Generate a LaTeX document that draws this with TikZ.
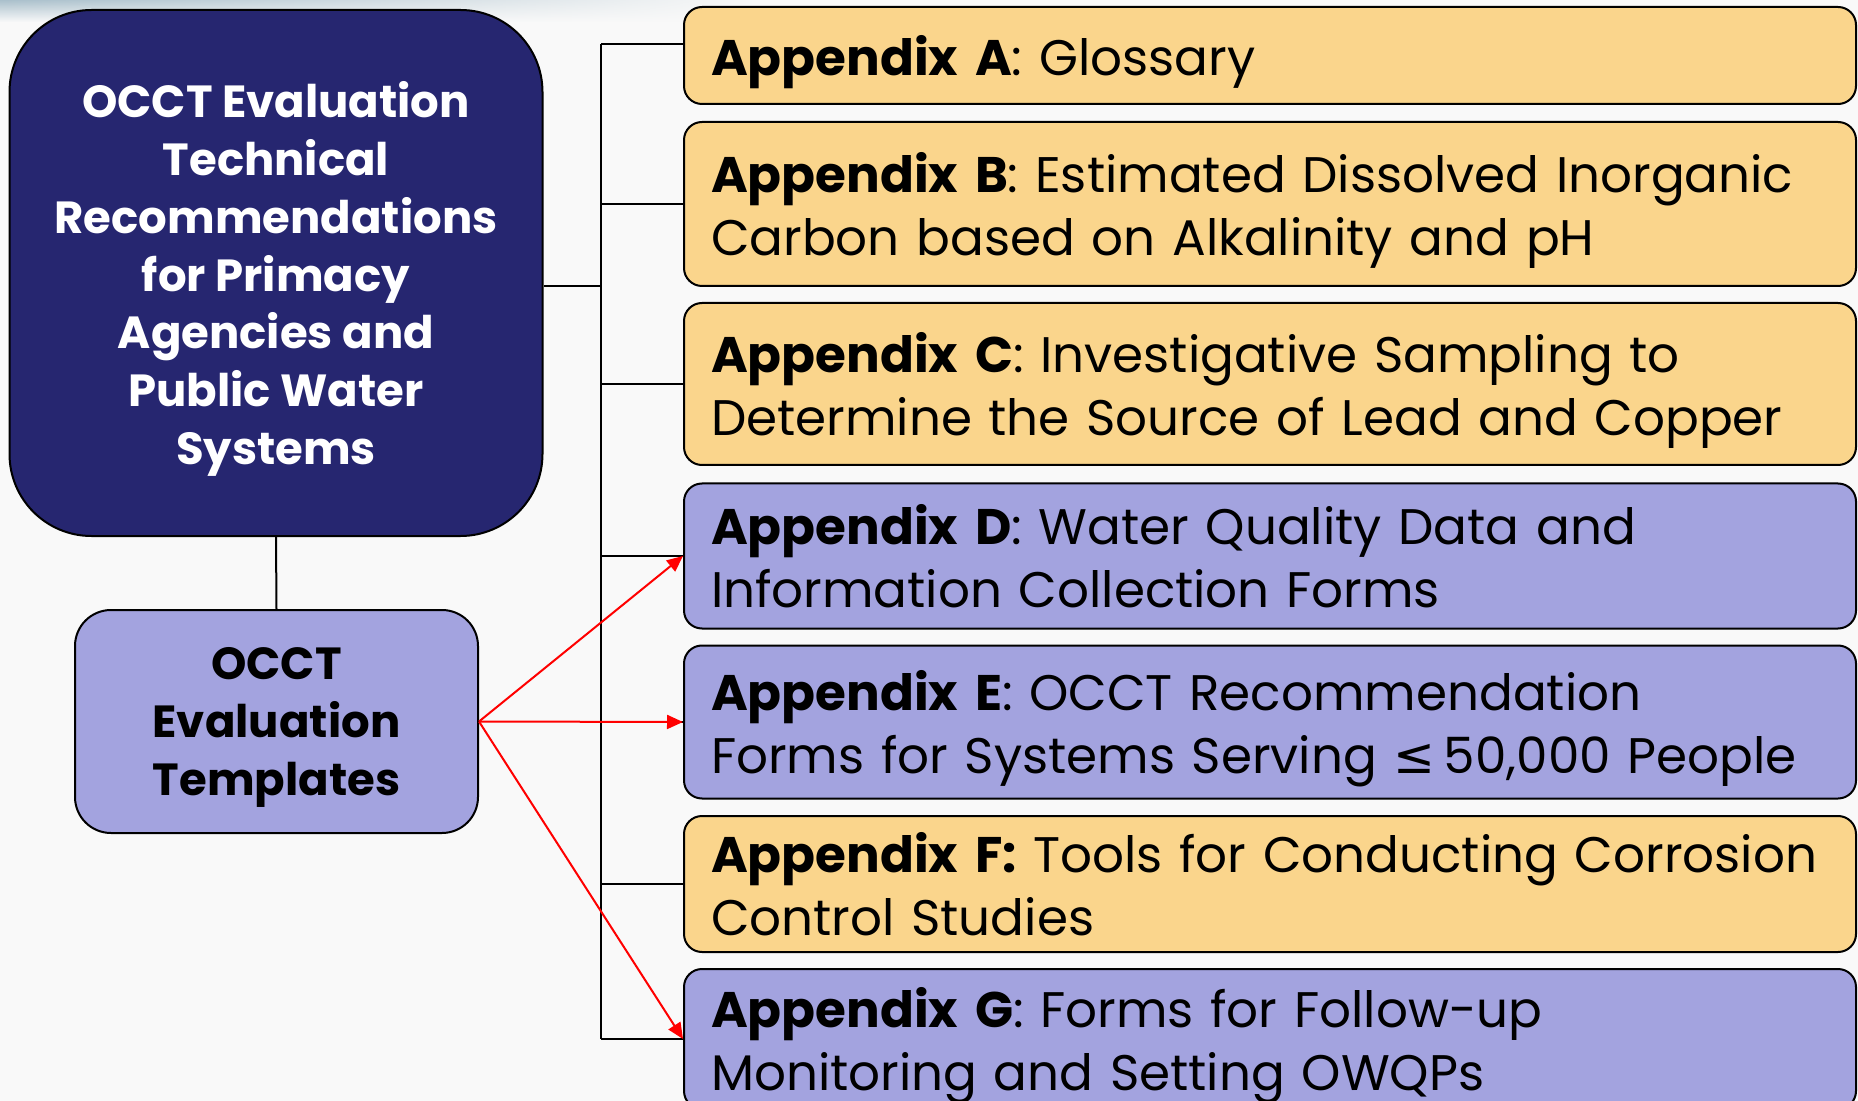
\documentclass[tikz,border=0pt]{standalone}
\usepackage{fontspec}
\setmainfont{Poppins}
\newfontfamily\symfont{DejaVu Sans}
\usetikzlibrary{arrows.meta,fadings}
\definecolor{pagebg}{RGB}{249,249,249}
\definecolor{navy}{RGB}{38,38,112}
\definecolor{lavender}{RGB}{163,163,223}
\definecolor{sand}{RGB}{250,213,140}
\definecolor{haze}{RGB}{170,192,204}
\newcommand{\lastline}[1]{\raisebox{0pt}[\height][0pt]{#1}}

\begin{document}
\begin{tikzpicture}[x=0.5pt,y=-0.5pt,
  box/.style={draw=black,line width=1pt,rounded corners=9pt,text width=559pt,inner xsep=13.5pt,align=left,
    font=\fontsize{25pt}{31.5pt}\selectfont},
  yellowbox/.style={box,fill=sand},
  purplebox/.style={box,fill=lavender},
  headbox/.style={draw=black,line width=1pt,align=center,text depth=0pt,
    font=\bfseries\fontsize{22.5pt}{28.9pt}\selectfont},
  link/.style={draw=black,line width=1pt},
  redlink/.style={draw=red,line width=1pt,-{Triangle[length=8pt,width=7pt]}}]
\useasboundingbox (0,0) rectangle (1858,1101);
\fill[pagebg] (0,0) rectangle (1858,1101);
\shade[top color=haze,bottom color=pagebg,path fading=east] (0,0) rectangle (760,22);

\node[headbox,fill=navy,text=white,rounded corners=41pt,minimum width=266.5pt,minimum height=263pt] (top) at (276,273)
  {OCCT Evaluation\\Technical\\Recommendations\\for Primacy\\Agencies and\\Public Water\\Systems};
\node[headbox,fill=lavender,rounded corners=18pt,minimum width=201.5pt,minimum height=111.5pt] (tmpl) at (276.5,721.5)
  {OCCT\\Evaluation\\Templates};

\node[yellowbox,minimum height=48.5pt] (A) at (1270,55.5) {\lastline{\textbf{Appendix A}: Glossary}};
\node[yellowbox,minimum height=82pt] (B) at (1270,204) {\mbox{\textbf{Appendix B}: Estimated Dissolved Inorganic}\\\lastline{Carbon based on Alkalinity and pH}};
\node[yellowbox,minimum height=81pt] (C) at (1270,384) {\textbf{Appendix C}: Investigative Sampling to\\\lastline{Determine the Source of Lead and Copper}};
\node[purplebox,minimum height=72.5pt] (D) at (1270,556) {\textbf{Appendix D}: Water Quality Data and\\\lastline{Information Collection Forms}};
\node[purplebox,minimum height=76.5pt] (E) at (1270,722) {\textbf{Appendix E}: OCCT Recommendation\\\lastline{Forms for Systems Serving {\symfont ≤}\,50,000 People}};
\node[yellowbox,minimum height=68pt] (F) at (1270,884) {\mbox{\textbf{Appendix F:} Tools for Conducting Corrosion}\\\lastline{Control Studies}};
\node[purplebox,minimum height=70pt] (G) at (1270,1039) {\textbf{Appendix G}: Forms for Follow-up\\\lastline{Monitoring and Setting OWQPs}};

% tree lines
\coordinate (tt) at (601,44);
\coordinate (tb) at (601,1039);
\coordinate (j) at (601,286);
\draw[link] (tt) -- (tb);
\draw[link] (j) -- (j -| top.east);
\draw[link] (tt) -- (tt -| A.west);
\foreach \n in {B,C,D,E,F,G}
  \draw[link] (\n.west) -- (\n.west -| tt);
\draw[link] (top.south) -- (tmpl.north);

% templates
\foreach \n in {D,E,G}
  \draw[redlink] (tmpl.east) -- (\n.west);
\end{tikzpicture}
\end{document}
